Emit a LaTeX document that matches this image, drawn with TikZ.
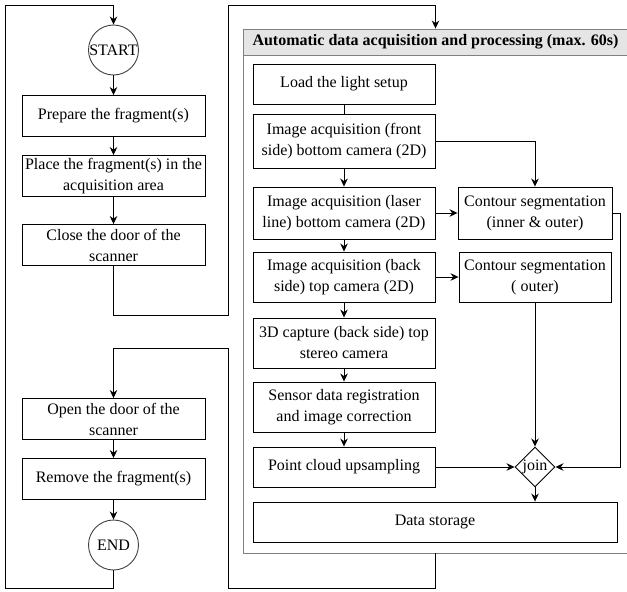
\documentclass[tikz,border=0pt]{standalone}
\usepackage{fontspec}
\setmainfont{Liberation Serif}
\newfontfamily\boxfont{Liberation Serif}
\usetikzlibrary{shapes.geometric,arrows.meta}

\begin{document}
\begin{tikzpicture}[x=1pt,y=-1pt,
		font=\boxfont\fontsize{16}{21}\selectfont,
		line width=0.9pt,
		box/.style={draw, rectangle, align=center, inner sep=2pt},
		lbox/.style={box, minimum width=183pt, minimum height=41pt},
		pbox/.style={box, minimum width=182pt, minimum height=50pt},
		term/.style={draw=black!75, circle, minimum size=50pt, inner sep=0pt},
		arr/.style={-{Stealth[length=8pt,width=7.5pt]}}]
	\useasboundingbox (0,0) rectangle (627,592);

	% manual steps
	\node[term] (start) at (113.5,50) {START};
	\node[lbox] (prep) at (113.5,116) {Prepare the fragment(s)};
	\node[lbox] (place) at (113.5,176) {Place the fragment(s) in the\\acquisition area};
	\node[lbox] (close) at (113.5,245) {Close the door of the\\scanner};
	\node[lbox] (open) at (113.5,419) {Open the door of the\\scanner};
	\node[lbox] (remove) at (113.5,479) {Remove the fragment(s)};
	\node[term] (stop) at (113.5,545) {END};

	% automatic part
	\node[draw=gray, minimum width=385pt, minimum height=524pt] (grp) at (435.5,291) {};
	\node[draw=gray, fill=gray!20, minimum width=385pt, minimum height=26pt, inner sep=0pt,
		font=\boxfont\fontsize{16}{21}\selectfont\bfseries] (hdr) at (435.5,42)
		{Automatic data acquisition and processing (max. 60s)};

	\node[pbox, minimum height=40pt] (load) at (344,84) {Load the light setup};
	\node[pbox, minimum height=54pt] (front) at (344,141) {Image acquisition (front\\side) bottom camera (2D)};
	\node[pbox, minimum height=52pt] (laser) at (344,213) {Image acquisition (laser\\line) bottom camera (2D)};
	\node[pbox] (back) at (344,277) {Image acquisition (back\\side) top camera (2D)};
	\node[pbox] (capture) at (344,343) {3D capture (back side) top\\stereo camera};
	\node[pbox] (sensor) at (344,407) {Sensor data registration\\and image correction};
	\node[pbox, minimum height=40pt] (upsample) at (344,467) {Point cloud upsampling};
	\node[box, minimum width=364pt, minimum height=40pt] (storage) at (435,522) {Data storage};

	\node[box, minimum width=154pt, minimum height=52pt] (inner) at (535,213) {Contour segmentation\\(inner \& outer)};
	\node[box, minimum width=152pt, minimum height=50pt] (outer) at (535,277) {Contour segmentation\\( outer)};
	\node[draw, diamond, minimum size=40pt, inner sep=0pt] (join) at (535,467) {join};

	\draw[arr] (start) -- (prep);
	\draw[arr] (prep) -- (place);
	\draw[arr] (place) -- (close);
	\draw[arr] (open) -- (remove);
	\draw[arr] (remove) -- (stop);

	\draw (load) -- (front);
	\draw[arr] (front) -- (laser);
	\draw[arr] (laser) -- (back);
	\draw[arr] (back) -- (capture);
	\draw[arr] (capture) -- (sensor);
	\draw[arr] (sensor) -- (upsample);

	\draw[arr] (front.east) -| (inner.north);
	\draw[arr] (laser) -- (inner);
	\draw[arr] (back) -- (outer);
	\draw[arr] (inner.east) -- ++(8,0) |- (join.east);
	\draw[arr] (outer) -- (join);
	\draw[arr] (upsample) -- (join);
	\draw[arr] (join.south) -- (join.south |- storage.north);

	% loops
	\draw[arr] (stop.south) |- (5,588) -- (5,5) -| (start.north);
	\draw[arr] (close.south) |- (228,315) -- (228,5) -| (grp.north);
	\draw[arr] (grp.south) |- (228,588) -- (228,348) -| (open.north);
\end{tikzpicture}
\end{document}
